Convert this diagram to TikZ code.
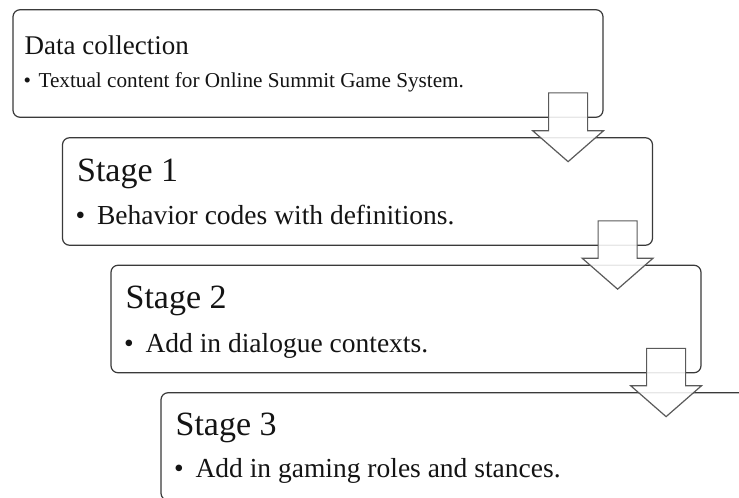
\documentclass[tikz,border=0pt]{standalone}
\usepackage{fontspec}
\setmainfont{Liberation Serif}
\usetikzlibrary{calc}
\definecolor{boxline}{HTML}{3A3A3A}
\definecolor{arrline}{HTML}{5A5A5A}
\definecolor{txt}{HTML}{141414}
\tikzset{
  stagebox/.style={draw=boxline, line width=1.2pt, rounded corners=7pt,
    minimum width=590pt, minimum height=107.5pt, inner sep=0pt, fill=white},
  titletext/.style={anchor=base west, inner sep=0pt, text=txt},
  itemtext/.style={anchor=base west, inner sep=0pt, text=txt},
  flowarrow/.style={draw=arrline, line width=1.2pt, fill=white,
    fill opacity=0.88, line join=miter},
}
% hollow block arrow from the lower right of box #1 into the top of box #2
\newcommand\stagearrow[2]{%
  \draw[flowarrow] let \p1=(#1.south east), \p2=(#2.north) in
    (\x1-55pt,\y1+25pt) -- (\x1-16pt,\y1+25pt) -- (\x1-16pt,\y2+6.5pt)
    -- (\x1,\y2+6.5pt) -- (\x1-35.5pt,\y2-24.5pt) -- (\x1-71pt,\y2+6.5pt)
    -- (\x1-55pt,\y2+6.5pt) -- cycle;}
\begin{document}
\begin{tikzpicture}[x=1pt,y=-1pt]
\clip (0,0) rectangle (739,498);
\useasboundingbox (0,0) rectangle (739,498);

% boxes, stepping down and to the right
\node[stagebox] (dc) at (308,63.5) {};
\node[stagebox] (s1) at (357.5,191.5) {};
\node[stagebox] (s2) at (406,319) {};
\node[stagebox] (s3) at (456,446.5) {};

% box contents
\node[titletext, font=\fontsize{27}{32}\selectfont] (dct)
  at ([shift={(12,45.5)}]dc.north west) {Data collection};
\node[itemtext, font=\fontsize{21.2}{26}\selectfont] (dci)
  at ([shift={(11,78)}]dc.north west)
  {\makebox[15pt][l]{\textbullet}Textual content for Online Summit Game System.};

\node[titletext, font=\fontsize{34}{40}\selectfont] (s1t)
  at ([shift={(15,44)}]s1.north west) {Stage 1};
\node[itemtext, font=\fontsize{27.5}{33}\selectfont] (s1i)
  at ([shift={(13.5,87)}]s1.north west)
  {\makebox[21.5pt][l]{\textbullet}Behavior codes with definitions.};

\node[titletext, font=\fontsize{34}{40}\selectfont] (s2t)
  at ([shift={(15,43.5)}]s2.north west) {Stage 2};
\node[itemtext, font=\fontsize{27.5}{33}\selectfont] (s2i)
  at ([shift={(13.5,88)}]s2.north west)
  {\makebox[21.5pt][l]{\textbullet}Add in dialogue contexts.};

\node[titletext, font=\fontsize{34}{40}\selectfont] (s3t)
  at ([shift={(15,43)}]s3.north west) {Stage 3};
\node[itemtext, font=\fontsize{27.5}{33}\selectfont] (s3i)
  at ([shift={(13.5,85.5)}]s3.north west)
  {\makebox[21.5pt][l]{\textbullet}Add in gaming roles and stances.};

% arrows between consecutive boxes
\stagearrow{dc}{s1}
\stagearrow{s1}{s2}
\stagearrow{s2}{s3}
\end{tikzpicture}
\end{document}
